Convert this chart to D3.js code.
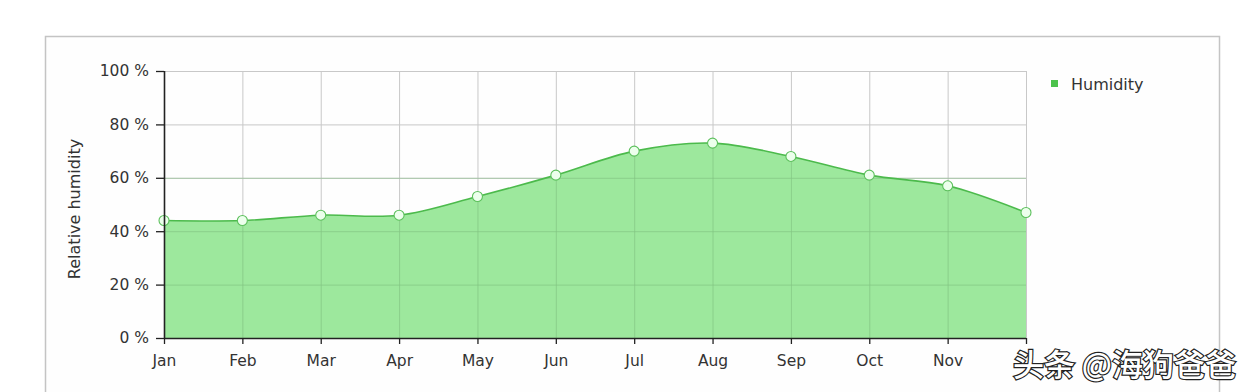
<!DOCTYPE html>
<html><head><meta charset="utf-8">
<script src="https://cdn.jsdelivr.net/npm/d3@7"></script>
<style>
html,body{margin:0;padding:0;background:#fff;}
svg{display:block;}
</style></head>
<body>
<svg id="chart" width="1248" height="392"></svg>
<script>
const months = ["Jan","Feb","Mar","Apr","May","Jun","Jul","Aug","Sep","Oct","Nov","Dec"];
const monthLabels = ["Jan","Feb","Mar","Apr","May","Jun","Jul","Aug","Sep","Oct","Nov",""];
const humidity = [44,44,46,46,53,61,70,73,68,61,57,47];
const yTicks = [0,20,40,60,80,100];
const seriesName = "Humidity";
const yTitle = "Relative humidity";
const watermark = "头条 @海狗爸爸";

(function(){
const svg = d3.select("#chart");
const font = "'DejaVu Sans', Verdana, sans-serif";

// outer frame
svg.append("rect").attr("x",45.5).attr("y",36.5).attr("width",1174).attr("height",400)
  .attr("fill","#fefefe").attr("stroke","#c4c4c4").attr("stroke-width",1.5);

const pL = 164, pR = 1026, pT = 71, pB = 338;
const x = d3.scalePoint().domain(months).range([pL, pR]);
const y = d3.scaleLinear().domain([0,100]).range([pB, pT]);

// grid
const g = svg.append("g");
g.selectAll("line.hg").data(yTicks).join("line").attr("class","hg")
  .attr("x1",pL).attr("x2",pR).attr("y1",d=>y(d)+0.5).attr("y2",d=>y(d)+0.5)
  .attr("stroke","#c8c8c8").attr("stroke-width",1);
g.selectAll("line.vg").data(months).join("line").attr("class","vg")
  .attr("x1",d=>x(d)+0.5).attr("x2",d=>x(d)+0.5).attr("y1",pT).attr("y2",pB)
  .attr("stroke","#c8c8c8").attr("stroke-width",1);

// area
const data = months.map((m,i)=>({m, v: humidity[i]}));
const curve = d3.curveCatmullRom.alpha(0.5);
const area = d3.area().x(d=>x(d.m)).y0(pB).y1(d=>y(d.v)).curve(curve);
const line = d3.line().x(d=>x(d.m)).y(d=>y(d.v)).curve(curve);
svg.append("path").datum(data).attr("d",area).attr("fill","#8fe58f").attr("fill-opacity",0.88);
// grid showing through area
svg.append("g").selectAll("line").data(yTicks.slice(1,4)).join("line")
  .attr("x1",pL).attr("x2",pR).attr("y1",d=>y(d)+0.5).attr("y2",d=>y(d)+0.5)
  .attr("stroke","#7fbf7f").attr("stroke-opacity",0.5);
svg.append("g").selectAll("line").data(data.slice(1,11)).join("line")
  .attr("x1",d=>x(d.m)+0.5).attr("x2",d=>x(d.m)+0.5).attr("y1",d=>y(d.v)).attr("y2",pB)
  .attr("stroke","#7fbf7f").attr("stroke-opacity",0.5);
svg.append("path").datum(data).attr("d",line).attr("fill","none").attr("stroke","#4cba4c").attr("stroke-width",1.6);

// markers
svg.append("g").selectAll("circle").data(data).join("circle")
  .attr("cx",d=>x(d.m)).attr("cy",d=>y(d.v)).attr("r",5)
  .attr("fill","#ecffec").attr("stroke","#5cc05c").attr("stroke-width",1.1);

// axes
const yAxis = d3.axisLeft(y).tickValues(yTicks).tickFormat(d=>d+" %").tickSize(8).tickPadding(7);
const ya = svg.append("g").attr("transform",`translate(${pL},0)`).call(yAxis);
const xAxis = d3.axisBottom(x).tickFormat((d,i)=>monthLabels[i]).tickSize(6).tickPadding(11);
const xa = svg.append("g").attr("transform",`translate(0,${pB})`).call(xAxis);
[ya,xa].forEach(a=>{
  a.selectAll("path").attr("stroke","#222").attr("stroke-width",1.6);
  a.selectAll("line").attr("stroke","#222").attr("stroke-width",1.3);
  a.selectAll("text").attr("font-family",font).attr("font-size",15.5).attr("fill","#333");
});
ya.select(".domain").attr("d",`M0.5,${pT}V${pB}`);
xa.select(".domain").attr("d",`M${pL},0.5H${pR}`);

// y title
svg.append("text").attr("transform","translate(80,209) rotate(-90)")
  .attr("text-anchor","middle").attr("font-family",font).attr("font-size",16).attr("fill","#333")
  .text(yTitle);

// legend
svg.append("rect").attr("x",1051).attr("y",80).attr("width",7).attr("height",7).attr("fill","#4cc24c");
svg.append("text").attr("x",1071).attr("y",90).attr("font-family",font).attr("font-size",16).attr("fill","#333").text(seriesName);

// watermark
svg.append("text").attr("x",1236).attr("y",376).attr("text-anchor","end")
  .attr("font-family","'Noto Sans CJK SC', sans-serif").attr("font-size",31).attr("font-weight",500)
  .attr("fill","#fff").attr("stroke","#222").attr("stroke-width",2.4).attr("paint-order","stroke")
  .text(watermark);
})();
</script>
</body></html>
